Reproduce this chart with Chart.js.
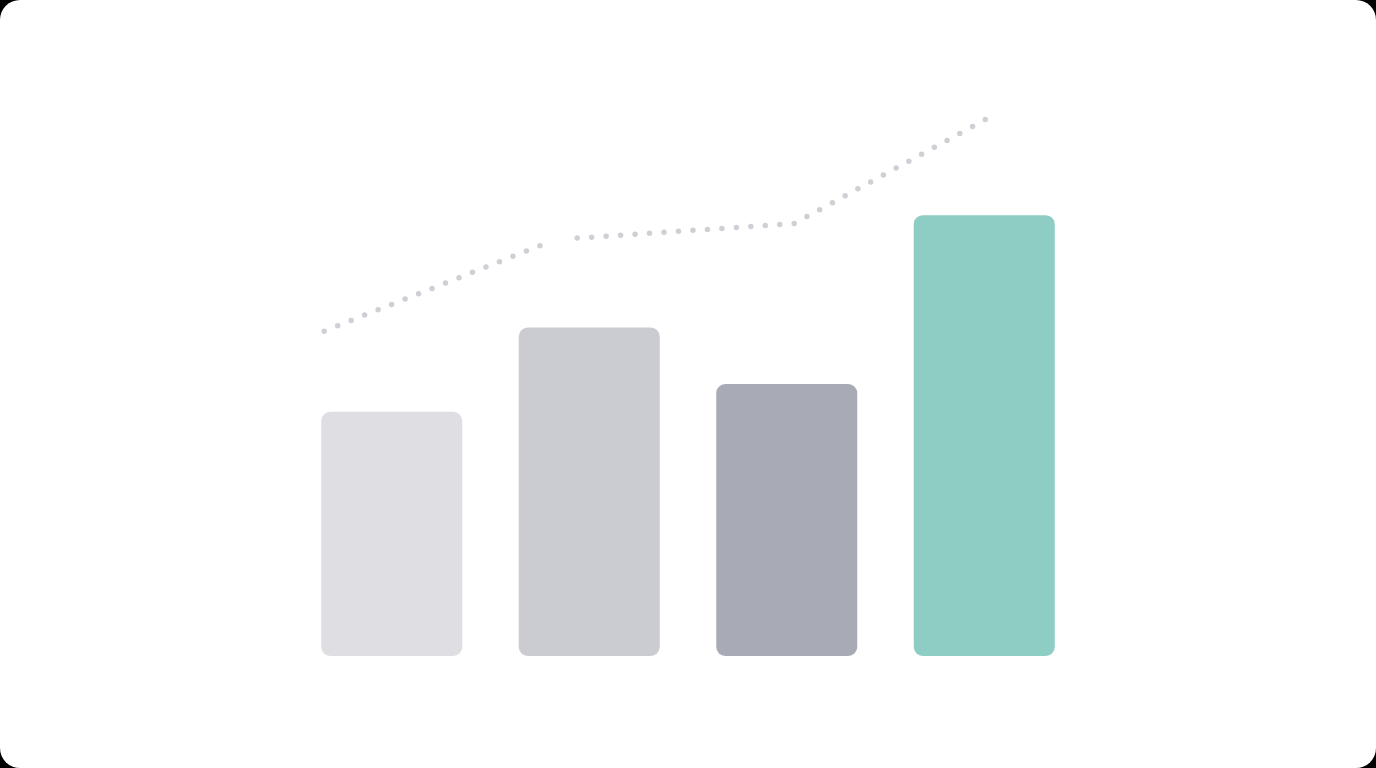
<!DOCTYPE html>
<html>
<head>
<meta charset="utf-8">
<script src="https://cdn.jsdelivr.net/npm/chart.js@4/dist/chart.umd.min.js"></script>
<style>
  html, body { margin: 0; padding: 0; background: #000; }
  #wrap { position: absolute; left: 0; top: 0; width: 1376px; height: 768px; background: #ffffff; border-radius: 20px; overflow: hidden; }
  canvas { display: block; }
</style>
</head>
<body>
<div id="wrap"><canvas id="c"></canvas></div>
<script>
// Data
const categories = ["A", "B", "C", "D"];
const barValues = [55.4, 74.5, 61.7, 100];
const barColors = ["#dfdfe3", "#cbccd1", "#a8abb5", "#8ecdc3"];
// Trend line (x in category units, y in value units); null = gap
const trendX = [-0.342, 0.762, 0.85, 0.939, 2.037, 3.01];
const trendY = [73.7, 93.3, null, 94.8, 98.1, 121.8];

const trendData = trendX.map((x, i) => ({ x: x, y: trendY[i] }));

new Chart(document.getElementById('c'), {
  type: 'bar',
  data: {
    labels: categories,
    datasets: [
      {
        type: 'line',
        data: trendData,
        xAxisID: 'x2',
        yAxisID: 'y',
        borderColor: '#cfd0d5',
        borderWidth: 5.5,
        borderDash: [0, 14.5],
        borderCapStyle: 'round',
        pointRadius: 0,
        tension: 0,
        fill: false,
        spanGaps: false,
        order: 0
      },
      {
        type: 'bar',
        data: barValues,
        xAxisID: 'x',
        yAxisID: 'y',
        backgroundColor: barColors,
        borderRadius: 9,
        borderSkipped: false,
        grouped: false,
        categoryPercentage: 1,
        barPercentage: 0.714,
        order: 1
      }
    ]
  },
  options: {
    responsive: true,
    maintainAspectRatio: false,
    animation: false,
    layout: { padding: { left: 293, right: 293, top: 105, bottom: 112 } },
    plugins: { legend: { display: false }, tooltip: { enabled: false } },
    scales: {
      x: { type: 'category', display: false, offset: true, grid: { display: false } },
      x2: { type: 'linear', display: false, offset: false, min: -0.5, max: 3.5 },
      y: { display: false, min: 0, max: 125 }
    }
  }
});
</script>
</body>
</html>
